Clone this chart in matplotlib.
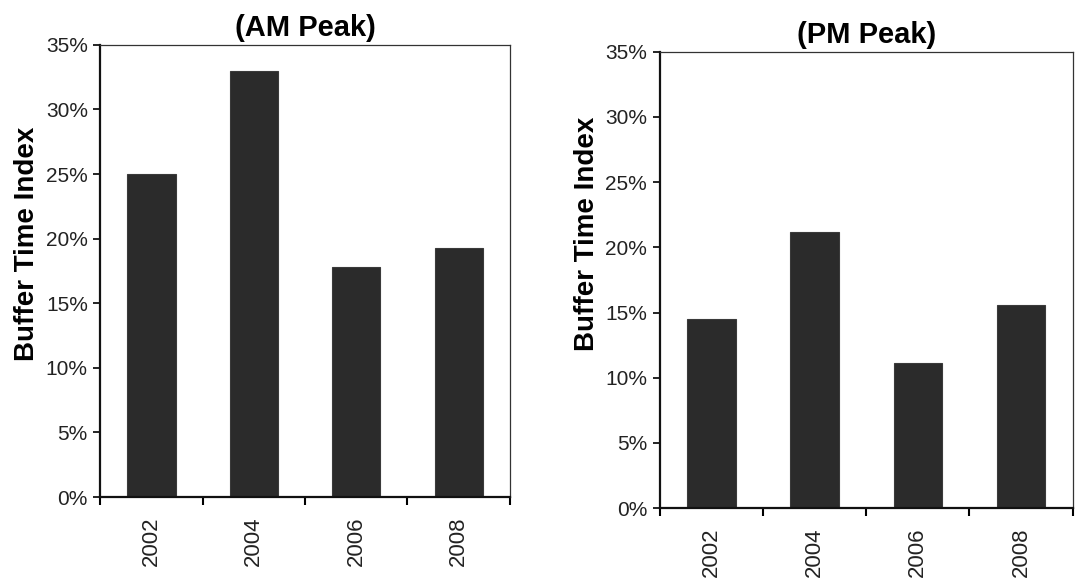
import matplotlib
matplotlib.use("Agg")
import matplotlib.pyplot as plt
from matplotlib.ticker import FuncFormatter, FixedLocator

plt.rcParams['font.family'] = ['Liberation Sans', 'DejaVu Sans']

years = ["2002", "2004", "2006", "2008"]
am_values = [25.0, 33.0, 17.8, 19.3]
pm_values = [14.5, 21.2, 11.1, 15.6]
titles = ["(AM Peak)", "(PM Peak)"]
y_ticks = [0, 5, 10, 15, 20, 25, 30, 35]
ylabel = "Buffer Time Index"

fig = plt.figure(figsize=(10.78, 5.82), dpi=100)
ax1 = fig.add_axes([0.093, 0.146, 0.380, 0.777])
ax2 = fig.add_axes([0.612, 0.127, 0.383, 0.784])

bar_color = "#2b2b2b"
label_pos = [(-0.148, 0.56), (-0.144, 0.60)]
for ax, vals, title, lp in [(ax1, am_values, titles[0], label_pos[0]),
                            (ax2, pm_values, titles[1], label_pos[1])]:
    x = list(range(len(years)))
    ax.bar(x, vals, width=0.47, color=bar_color, edgecolor="#3a3a3a", linewidth=0.8)
    ax.set_xlim(-0.5, len(years) - 0.5)
    ax.set_ylim(0, 35)
    ax.set_yticks(y_ticks)
    ax.yaxis.set_major_formatter(FuncFormatter(lambda v, p: f"{int(v)}%"))
    ax.tick_params(axis='y', direction='out', length=5, width=1.2, labelsize=15,
                   labelcolor="#222222", pad=4)
    ax.xaxis.set_major_locator(FixedLocator([i - 0.5 for i in range(len(years) + 1)]))
    ax.xaxis.set_major_formatter(FuncFormatter(lambda v, p: ""))
    ax.xaxis.set_minor_locator(FixedLocator(x))
    ax.set_xticklabels(years, minor=True, rotation=90, fontsize=16, color="#222222")
    ax.tick_params(axis='x', which='major', direction='out', length=6, width=1.5)
    ax.tick_params(axis='x', which='minor', length=0, pad=14)
    for s in ['left', 'bottom']:
        ax.spines[s].set_linewidth(1.6)
        ax.spines[s].set_color("#111111")
    for s in ['top', 'right']:
        ax.spines[s].set_linewidth(0.9)
        ax.spines[s].set_color("#333333")
    ax.set_ylabel(ylabel, fontsize=20, fontweight='bold')
    ax.yaxis.set_label_coords(*lp)
    ax.set_title(title, fontsize=21, fontweight='bold', pad=6)

fig.savefig("out.png", dpi=100, facecolor="white")
